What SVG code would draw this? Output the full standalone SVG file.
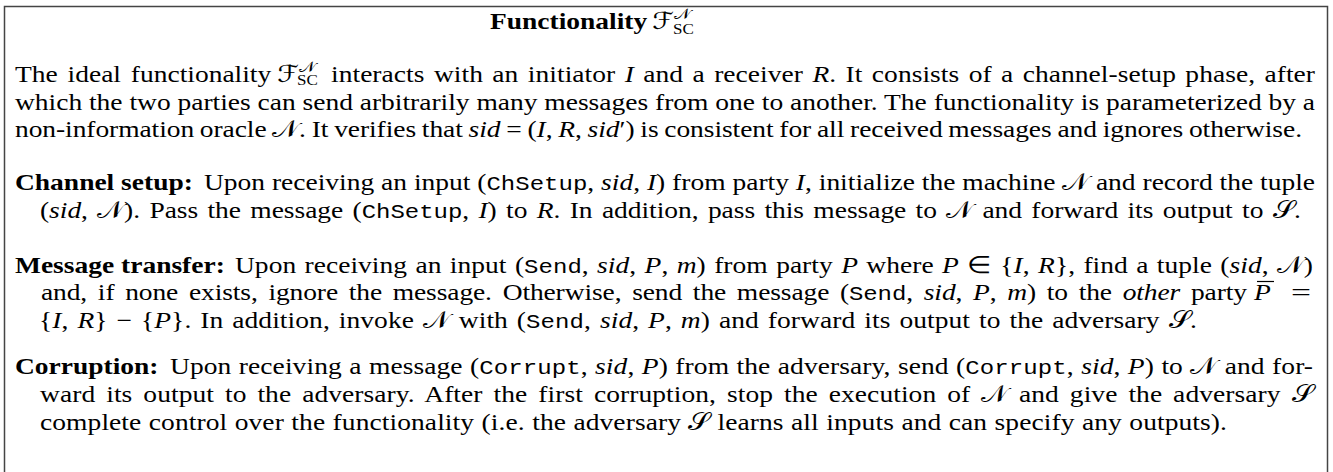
<svg xmlns="http://www.w3.org/2000/svg" width="1333" height="472" viewBox="0 0 1333 472">
  <style>
    .t { font-family: "Liberation Serif", "Times New Roman", serif; font-size: 27.5px; fill: #000; }
    .b { font-weight: bold; }
    .i { font-style: italic; }
    .tt { font-family: "Liberation Mono", "Courier New", monospace; font-size: 24px; }
    .cal { font-family: "DejaVu Serif", "DejaVu Sans", serif; font-style: normal; }
    .sm { font-size: 17px; }
  </style>
  <rect width="1333" height="472" fill="#fff"/>
  <!-- frame: the lower edge runs past the canvas -->
  <rect x="4.5" y="6.5" width="1323" height="480" fill="none" stroke="#444" stroke-width="1.5"/>

  <!-- all text is set slightly condensed vertically -->
  <g transform="scale(1 0.86)">
    <g id="title">
      <text class="t b" x="490" y="34.3">Functionality</text>
      <text class="t" x="652" y="34.3"><tspan class="cal">ℱ</tspan><tspan class="cal sm" dy="-12">𝒩</tspan><tspan class="sm" x="673" dy="17">SC</tspan></text>
    </g>

    <g id="intro">
      <text class="t" x="15" y="95.35" word-spacing="3">The ideal functionality</text>
      <text class="t" x="277" y="95.35"><tspan class="cal">ℱ</tspan><tspan class="cal sm" dy="-12">𝒩</tspan><tspan class="sm" x="297" dy="16">SC</tspan></text>
      <text class="t" x="331" y="95.35" word-spacing="2.5" textLength="984" lengthAdjust="spacing">interacts with an initiator <tspan class="i">I</tspan> and a receiver <tspan class="i">R</tspan>. It consists of a channel-setup phase, after</text>
      <text class="t" x="15" y="127.44" textLength="1300" lengthAdjust="spacing">which the two parties can send arbitrarily many messages from one to another. The functionality is parameterized by a</text>
      <text class="t" x="15" y="159.53" word-spacing="-1" textLength="1287" lengthAdjust="spacing">non-information oracle <tspan class="cal">𝒩</tspan>. It verifies that <tspan class="i">sid</tspan> = (<tspan class="i">I</tspan>, <tspan class="i">R</tspan>, <tspan class="i">sid</tspan>′) is consistent for all received messages and ignores otherwise.</text>
    </g>

    <g id="channel-setup">
      <text class="t b" x="15" y="220.93">Channel setup:</text>
      <text class="t" x="204" y="220.93" textLength="1111" lengthAdjust="spacing">Upon receiving an input (<tspan class="tt">ChSetup</tspan>, <tspan class="i">sid</tspan>, <tspan class="i">I</tspan>) from party <tspan class="i">I</tspan>, initialize the machine <tspan class="cal">𝒩</tspan> and record the tuple</text>
      <text class="t" x="40" y="253.02" word-spacing="2.5" textLength="1261" lengthAdjust="spacing">(<tspan class="i">sid</tspan>, <tspan class="cal">𝒩</tspan>). Pass the message (<tspan class="tt">ChSetup</tspan>, <tspan class="i">I</tspan>) to <tspan class="i">R</tspan>. In addition, pass this message to <tspan class="cal">𝒩</tspan> and forward its output to <tspan class="cal">𝒮</tspan>.</text>
    </g>

    <g id="message-transfer">
      <text class="t b" x="15" y="317.21">Message transfer:</text>
      <text class="t" x="235" y="317.21" word-spacing="1.5" textLength="1078" lengthAdjust="spacing">Upon receiving an input (<tspan class="tt">Send</tspan>, <tspan class="i">sid</tspan>, <tspan class="i">P</tspan>, <tspan class="i">m</tspan>) from party <tspan class="i">P</tspan> where <tspan class="i">P</tspan> ∈ {<tspan class="i">I</tspan>, <tspan class="i">R</tspan>}, find a tuple (<tspan class="i">sid</tspan>, <tspan class="cal">𝒩</tspan>)</text>
      <text class="t" x="41" y="349.3" word-spacing="4" textLength="1206" lengthAdjust="spacing">and, if none exists, ignore the message. Otherwise, send the message (<tspan class="tt">Send</tspan>, <tspan class="i">sid</tspan>, <tspan class="i">P</tspan>, <tspan class="i">m</tspan>) to the <tspan class="i">other</tspan> party</text>
      <text class="t i" x="1254" y="349.3">P</text>
      <text class="t" x="1291" y="349.3" textLength="20" lengthAdjust="spacingAndGlyphs">=</text>
      <text class="t" x="39" y="381.4" word-spacing="2" textLength="1158" lengthAdjust="spacing">{<tspan class="i">I</tspan>, <tspan class="i">R</tspan>} − {<tspan class="i">P</tspan>}. In addition, invoke <tspan class="cal">𝒩</tspan> with (<tspan class="tt">Send</tspan>, <tspan class="i">sid</tspan>, <tspan class="i">P</tspan>, <tspan class="i">m</tspan>) and forward its output to the adversary <tspan class="cal">𝒮</tspan>.</text>
    </g>

    <g id="corruption">
      <text class="t b" x="15" y="435.47">Corruption:</text>
      <text class="t" x="170" y="435.47" word-spacing="0.5" textLength="1143" lengthAdjust="spacing">Upon receiving a message (<tspan class="tt">Corrupt</tspan>, <tspan class="i">sid</tspan>, <tspan class="i">P</tspan>) from the adversary, send (<tspan class="tt">Corrupt</tspan>, <tspan class="i">sid</tspan>, <tspan class="i">P</tspan>) to <tspan class="cal">𝒩</tspan> and for-</text>
      <text class="t" x="40" y="467.44" word-spacing="4" textLength="1273" lengthAdjust="spacing">ward its output to the adversary. After the first corruption, stop the execution of <tspan class="cal">𝒩</tspan> and give the adversary <tspan class="cal">𝒮</tspan></text>
      <text class="t" x="40" y="499.53" word-spacing="0.5" textLength="1187" lengthAdjust="spacing">complete control over the functionality (i.e. the adversary <tspan class="cal">𝒮</tspan> learns all inputs and can specify any outputs).</text>
    </g>
  </g>

  <!-- bar over the second P -->
  <line x1="1257" y1="281.5" x2="1274" y2="281.5" stroke="#000" stroke-width="1.2"/>
</svg>
